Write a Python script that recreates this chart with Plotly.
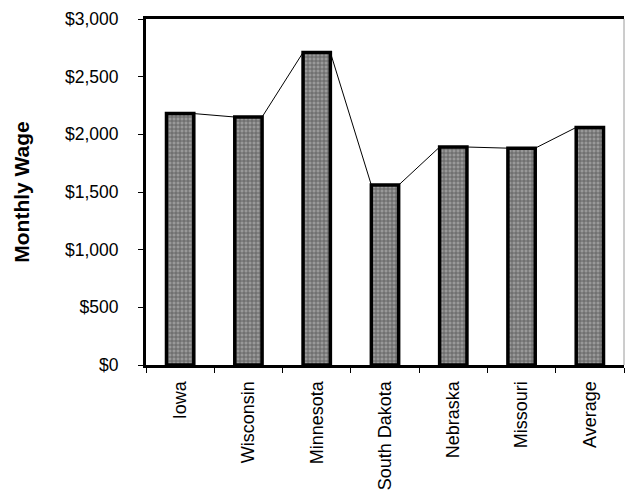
import plotly.graph_objects as go

# Monthly wage by state, plus the regional average
states = ["Iowa", "Wisconsin", "Minnesota", "South Dakota", "Nebraska", "Missouri", "Average"]
monthly_wage = [2180, 2150, 2710, 1560, 1890, 1880, 2060]
y_ticks = [0, 500, 1000, 1500, 2000, 2500, 3000]
y_tick_labels = ["$0", "$500", "$1,000", "$1,500", "$2,000", "$2,500", "$3,000"]

FONT = "Liberation Sans, Arial, sans-serif"
BAR_WIDTH = 0.40

fig = go.Figure()

fig.add_trace(go.Bar(
    x=states,
    y=monthly_wage,
    width=BAR_WIDTH,
    marker=dict(
        color="#8c8c8c",
        line=dict(color="black", width=3.5),
        pattern=dict(shape="+", fgcolor="#262626", bgcolor="#999999", size=4, solidity=0.4),
    ),
    showlegend=False,
))

# series lines: run from the top-right corner of each bar to the
# top-left corner of the next one (drawn on an overlaid numeric axis)
line_x, line_y = [], []
for i, v in enumerate(monthly_wage):
    line_x += [i - BAR_WIDTH / 2, i + BAR_WIDTH / 2]
    line_y += [v, v]

fig.add_trace(go.Scatter(
    x=line_x,
    y=line_y,
    xaxis="x2",
    mode="lines",
    line=dict(color="black", width=1),
    showlegend=False,
    hoverinfo="skip",
))

fig.update_layout(
    width=625,
    height=496,
    margin=dict(l=146, r=1, t=19, b=131),
    paper_bgcolor="white",
    plot_bgcolor="white",
    font=dict(family=FONT, color="black"),
    xaxis=dict(
        type="category",
        range=[-0.5, 6.5],
        showline=True,
        linecolor="black",
        linewidth=3,
        mirror=True,
        ticks="outside",
        tickson="boundaries",
        ticklen=5,
        tickwidth=1,
        tickcolor="black",
        tickangle=-90,
        tickfont=dict(size=18, family=FONT, color="black"),
        ticklabelstandoff=6,
        showgrid=False,
        zeroline=False,
    ),
    xaxis2=dict(
        overlaying="x",
        range=[-0.5, 6.5],
        visible=False,
    ),
    yaxis=dict(
        range=[0, 3000],
        tickvals=y_ticks,
        ticktext=y_tick_labels,
        showline=True,
        linecolor="black",
        linewidth=3,
        ticks="outside",
        ticklen=5,
        tickwidth=1,
        tickcolor="black",
        tickfont=dict(size=17.5, family=FONT, color="black"),
        ticklabelstandoff=16,
        showgrid=False,
        zeroline=False,
        title=dict(
            text="Monthly Wage",
            font=dict(size=21, family=FONT, color="black", weight="bold"),
            standoff=30,
        ),
    ),
)

# faint right-hand frame edge
fig.add_shape(
    type="line", xref="paper", yref="paper",
    x0=1, x1=1, y0=0, y1=1,
    line=dict(color="#9a9a9a", width=1),
)

fig.write_html("out.html")
